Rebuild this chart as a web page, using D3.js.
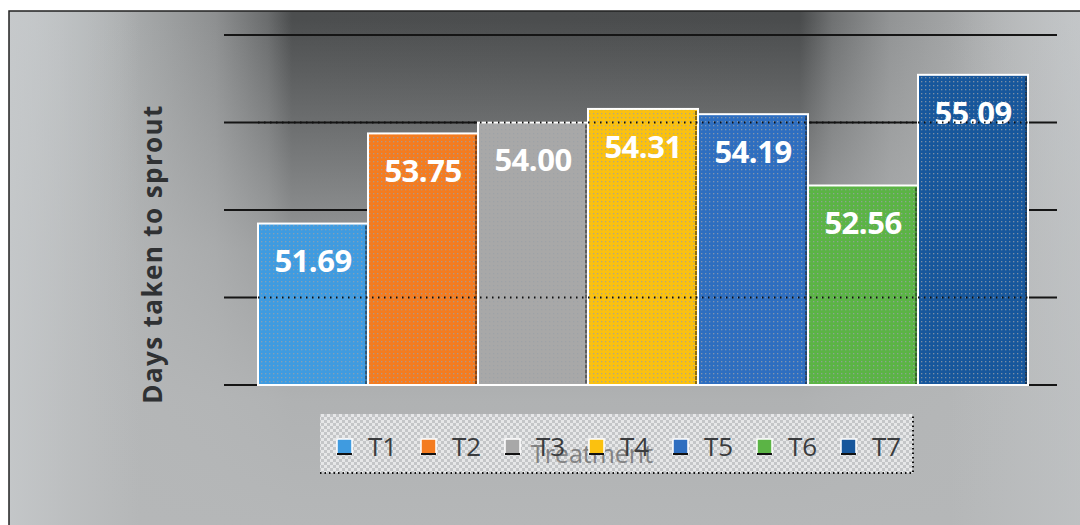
<!DOCTYPE html>
<html>
<head>
<meta charset="utf-8">
<script src="https://cdn.jsdelivr.net/npm/d3@7"></script>
<style>
  body { margin: 0; background: #fff; }
  svg { display: block; }
</style>
</head>
<body>
<div id="chart"></div>
<script>
// data
var treatments = ['T1', 'T2', 'T3', 'T4', 'T5', 'T6', 'T7']
var days = [51.69, 53.75, 54.00, 54.31, 54.19, 52.56, 55.09]
var barColors = ['#3f9be0', '#f47c20', '#a8a8a8', '#fbc10f', '#2e6ec0', '#5bb445', '#17579c']
var yTicks = [48, 50, 52, 54, 56]
var dottedTicks = [50, 54]

var width = 1080, height = 525

var svg = d3.select('#chart')
    .append('svg')
    .attr('width', width)
    .attr('height', height)

var defs = svg.append('defs')

// background shading: dark band across the top, fading out to the sides and bottom
var hGrad = defs.append('linearGradient')
    .attr('id', 'hGrad')
    .attr('gradientUnits', 'userSpaceOnUse')
    .attr('x1', 0).attr('x2', width).attr('y1', 0).attr('y2', 0)
var hStops = [[10, '#c3c7c9'], [120, '#acafb0'], [215, '#8e9091'], [268, '#6a6c6d'],
    [292, '#4c4e4f'], [800, '#4a4c4d'], [832, '#6f7172'], [890, '#929495'],
    [1000, '#b0b2b3'], [1080, '#c0c3c5']]
hStops.forEach(function(s) {
    hGrad.append('stop').attr('offset', s[0] / width).attr('stop-color', s[1])
})

var vGrad = defs.append('linearGradient')
    .attr('id', 'vGrad')
    .attr('gradientUnits', 'userSpaceOnUse')
    .attr('x1', 0).attr('x2', 0).attr('y1', 0).attr('y2', height)
var vStops = [[20, 0], [120, 0.3], [250, 0.7], [400, 0.95], [525, 1]]
vStops.forEach(function(s) {
    vGrad.append('stop').attr('offset', s[0] / height)
        .attr('stop-color', '#b5b7b8').attr('stop-opacity', s[1])
})

// light edges left and right
var eGrad = defs.append('linearGradient')
    .attr('id', 'eGrad')
    .attr('gradientUnits', 'userSpaceOnUse')
    .attr('x1', 0).attr('x2', width).attr('y1', 0).attr('y2', 0)
var eStops = [[10, 0.85], [70, 0.4], [140, 0], [950, 0], [1080, 0.5]]
eStops.forEach(function(s) {
    eGrad.append('stop').attr('offset', s[0] / width)
        .attr('stop-color', '#c6c9cb').attr('stop-opacity', s[1])
})

// dotted texture for the bars
var dots = defs.append('pattern')
    .attr('id', 'dots')
    .attr('width', 4).attr('height', 4)
    .attr('patternUnits', 'userSpaceOnUse')
dots.append('rect').attr('x', 1).attr('y', 1).attr('width', 1.3).attr('height', 1.3)
    .attr('fill', '#9aa0a6').attr('opacity', 0.75)

// checker for legend box
var checker = defs.append('pattern')
    .attr('id', 'checker')
    .attr('width', 6).attr('height', 6)
    .attr('patternUnits', 'userSpaceOnUse')
checker.append('rect').attr('width', 6).attr('height', 6).attr('fill', '#e6e7e8')
checker.append('rect').attr('width', 3).attr('height', 3).attr('fill', '#c4c6c8')
checker.append('rect').attr('x', 3).attr('y', 3).attr('width', 3).attr('height', 3).attr('fill', '#c4c6c8')

svg.append('rect')
    .attr('x', 9).attr('y', 11)
    .attr('width', width).attr('height', height)
    .attr('fill', 'url(#hGrad)')

svg.append('rect')
    .attr('x', 9).attr('y', 11)
    .attr('width', width).attr('height', height)
    .attr('fill', 'url(#vGrad)')

svg.append('rect')
    .attr('x', 9).attr('y', 11)
    .attr('width', width).attr('height', height)
    .attr('fill', 'url(#eGrad)')
    .attr('stroke', '#222')
    .attr('stroke-width', 1.5)

var x = d3.scaleBand()
    .domain(treatments)
    .range([258, 1028])
    .paddingInner(0)
    .paddingOuter(0)

var y = d3.scaleLinear()
    .domain([48, 56])
    .range([385, 35])

// gridlines
svg.append('g')
    .selectAll('line')
    .data(yTicks)
    .enter()
    .append('line')
    .attr('x1', 224).attr('x2', 1057)
    .attr('y1', function(d) { return y(d) })
    .attr('y2', function(d) { return y(d) })
    .attr('stroke', '#151515')
    .attr('stroke-width', 2)

var bars = svg.append('g')
    .selectAll('g')
    .data(days)
    .enter()
    .append('g')

bars.append('rect')
    .attr('x', function(d, i) { return x(treatments[i]) })
    .attr('y', function(d) { return y(d) })
    .attr('width', x.bandwidth())
    .attr('height', function(d) { return y(48) - y(d) })
    .attr('fill', function(d, i) { return barColors[i] })
    .attr('stroke', '#fff')
    .attr('stroke-width', 2)

bars.append('rect')
    .attr('x', function(d, i) { return x(treatments[i]) + 1 })
    .attr('y', function(d) { return y(d) + 1 })
    .attr('width', x.bandwidth() - 2)
    .attr('height', function(d) { return y(48) - y(d) - 2 })
    .attr('fill', 'url(#dots)')

// right edge shadow
bars.append('line')
    .attr('x1', function(d, i) { return x(treatments[i]) + x.bandwidth() - 2 })
    .attr('x2', function(d, i) { return x(treatments[i]) + x.bandwidth() - 2 })
    .attr('y1', function(d) { return y(d) + 2 })
    .attr('y2', y(48) - 1)
    .attr('stroke', '#111')
    .attr('stroke-width', 1.2)
    .attr('stroke-dasharray', '4,1')
    .attr('opacity', 0.8)

// dotted gridlines showing through the bars
svg.append('g')
    .selectAll('line')
    .data(dottedTicks)
    .enter()
    .append('line')
    .attr('x1', x.range()[0])
    .attr('x2', x.range()[1])
    .attr('y1', function(d) { return y(d) })
    .attr('y2', function(d) { return y(d) })
    .attr('stroke', '#111')
    .attr('stroke-width', 2)
    .attr('stroke-dasharray', '1.5,4.5')

// value labels
bars.append('text')
    .attr('x', function(d, i) { return x(treatments[i]) + x.bandwidth() / 2 })
    .attr('y', function(d) { return y(d) + 38 })
    .attr('dy', '0.35em')
    .attr('text-anchor', 'middle')
    .attr('font-family', 'Open Sans, sans-serif')
    .attr('font-weight', 'bold')
    .attr('font-size', '31px')
    .attr('letter-spacing', '-0.5px')
    .attr('fill', '#fff')
    .text(function(d) { return d.toFixed(2) })

// y axis title
svg.append('text')
    .attr('transform', 'translate(153,254) rotate(-90)')
    .attr('text-anchor', 'middle')
    .attr('dy', '0.35em')
    .attr('font-family', 'Open Sans, sans-serif')
    .attr('font-weight', 'bold')
    .attr('font-size', '26px')
    .attr('letter-spacing', '1.4px')
    .attr('fill', '#2f3133')
    .text('Days taken to sprout')

// legend
var legend = svg.append('g')

legend.append('rect')
    .attr('x', 320).attr('y', 414)
    .attr('width', 593).attr('height', 59)
    .attr('fill', 'url(#checker)')

legend.append('path')
    .attr('d', 'M320,473 H913 V414')
    .attr('fill', 'none')
    .attr('stroke', '#111')
    .attr('stroke-width', 2)
    .attr('stroke-dasharray', '1.5,3')

// x axis title (peeks through the legend)
legend.append('text')
    .attr('x', 592).attr('y', 463)
    .attr('text-anchor', 'middle')
    .attr('font-family', 'Open Sans, sans-serif')
    .attr('font-size', '25px')
    .attr('fill', '#555')
    .attr('opacity', 0.65)
    .text('Treatment')

var items = legend.selectAll('g.item')
    .data(treatments)
    .enter()
    .append('g')
    .attr('class', 'item')
    .attr('transform', function(d, i) { return 'translate(' + (337 + i * 84) + ',447)' })

items.append('rect')
    .attr('x', 0).attr('y', -8)
    .attr('width', 15).attr('height', 15)
    .attr('fill', function(d, i) { return barColors[i] })
    .attr('stroke', '#fff')
    .attr('stroke-width', 1.5)

items.append('line')
    .attr('x1', 0).attr('x2', 15)
    .attr('y1', 7).attr('y2', 7)
    .attr('stroke', '#111')
    .attr('stroke-width', 2)

items.append('text')
    .attr('x', 31)
    .attr('dy', '0.35em')
    .attr('font-family', 'Open Sans, sans-serif')
    .attr('font-size', '26px')
    .attr('fill', '#3a3c3e')
    .text(function(d) { return d })
</script>
</body>
</html>
